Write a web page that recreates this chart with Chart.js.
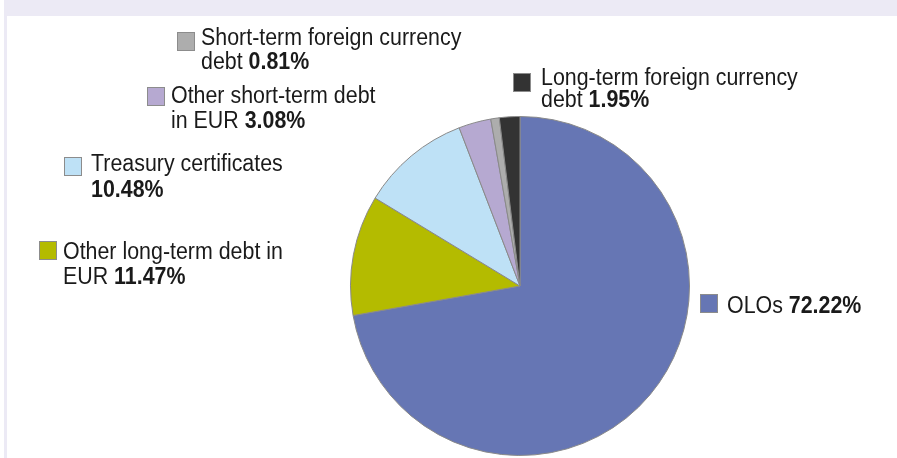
<!DOCTYPE html>
<html>
<head>
<meta charset="utf-8">
<script src="https://cdn.jsdelivr.net/npm/chart.js@4/dist/chart.umd.min.js"></script>
<style>
  html, body { margin: 0; padding: 0; background: #ffffff; }
  canvas { display: block; }
</style>
</head>
<body>
<canvas id="debt" width="897" height="458"></canvas>
<script>
// Breakdown of the debt by instrument (share of total, %)
const categories = [
  "OLOs",
  "Other long-term debt in\nEUR",
  "Treasury certificates\n",
  "Other short-term debt\nin EUR",
  "Short-term foreign currency\ndebt",
  "Long-term foreign currency\ndebt"
];
const shares = [72.22, 11.47, 10.48, 3.08, 0.81, 1.95];
const sliceColors = ["#6676B4", "#B4BB00", "#BEE1F6", "#B6A9D1", "#ADADAD", "#333333"];

// Where each callout (swatch + text) sits, in canvas pixels
const calloutLayout = [
  { box: [700, 294], text: [727, 313], lineGap: 0 },
  { box: [39, 241], text: [63, 259], lineGap: 25 },
  { box: [64, 157], text: [91, 171], lineGap: 26 },
  { box: [147, 87], text: [171, 103], lineGap: 24.5 },
  { box: [177, 32], text: [201, 45], lineGap: 23.5 },
  { box: [513, 73], text: [541, 85], lineGap: 22 }
];

const FONT_FAMILY = '"Liberation Sans", Arial, Helvetica, sans-serif';
const FONT_SIZE = 23;
const X_SQUEEZE = 0.93;
const TEXT_COLOR = "#1a1a1a";

const pageFrame = {
  id: "pageFrame",
  beforeDraw(chart) {
    const ctx = chart.ctx;
    ctx.save();
    ctx.fillStyle = "#ffffff";
    ctx.fillRect(0, 0, chart.width, chart.height);
    ctx.fillStyle = "#ECEAF5";
    ctx.fillRect(4, 0, chart.width - 4, 16);
    ctx.fillRect(4, 0, 3, chart.height);
    ctx.restore();
  }
};

const callouts = {
  id: "callouts",
  afterDraw(chart) {
    const ctx = chart.ctx;
    const ds = chart.data.datasets[0];
    ctx.save();
    chart.data.labels.forEach((label, i) => {
      const lay = calloutLayout[i];
      // swatch
      ctx.fillStyle = ds.backgroundColor[i];
      ctx.fillRect(lay.box[0], lay.box[1], 18, 19);
      ctx.strokeStyle = "#8c8c8c";
      ctx.lineWidth = 1;
      ctx.strokeRect(lay.box[0] + 0.5, lay.box[1] + 0.5, 17, 18);

      // text lines, value in bold at the end of the last line
      const lines = label.split("\n");
      const valueText = ds.data[i].toFixed(2) + "%";
      ctx.fillStyle = TEXT_COLOR;
      ctx.textBaseline = "alphabetic";
      lines.forEach((line, k) => {
        const y = lay.text[1] + k * lay.lineGap;
        ctx.save();
        ctx.translate(lay.text[0], y);
        ctx.scale(X_SQUEEZE, 1);
        ctx.font = FONT_SIZE + "px " + FONT_FAMILY;
        ctx.fillText(line, 0, 0);
        if (k === lines.length - 1) {
          const lead = line.length ? line + " " : "";
          const w = ctx.measureText(lead).width;
          ctx.font = "bold " + FONT_SIZE + "px " + FONT_FAMILY;
          ctx.fillText(valueText, w, 0);
        }
        ctx.restore();
      });
    });
    ctx.restore();
  }
};

new Chart(document.getElementById("debt"), {
  type: "pie",
  data: {
    labels: categories,
    datasets: [{
      data: shares,
      backgroundColor: sliceColors,
      borderColor: "#8a8a8a",
      borderWidth: 1,
      hoverOffset: 0,
      offset: 0
    }]
  },
  options: {
    responsive: false,
    animation: false,
    devicePixelRatio: 1,
    layout: { padding: { left: 350, right: 207, top: 116, bottom: 2 } },
    plugins: {
      legend: { display: false },
      tooltip: { enabled: false }
    }
  },
  plugins: [pageFrame, callouts]
});
</script>
</body>
</html>
